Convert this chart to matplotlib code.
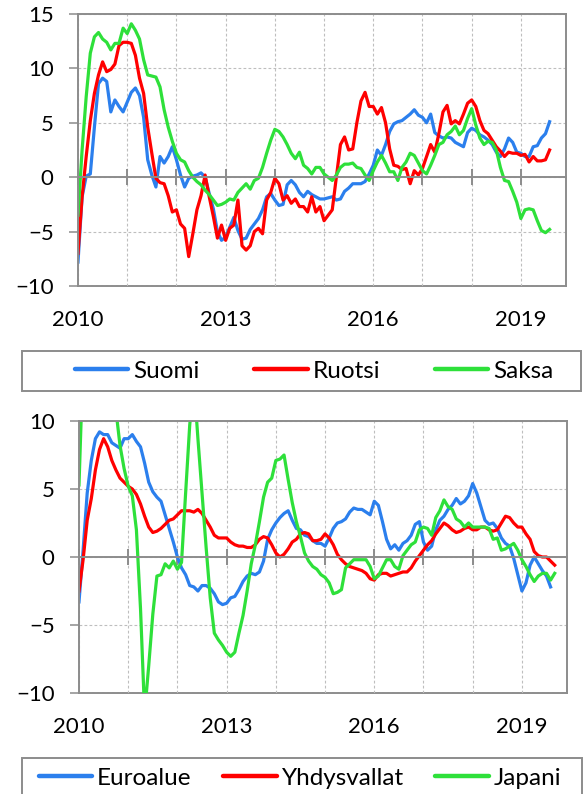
import numpy as np
import matplotlib
matplotlib.use('Agg')
import matplotlib.pyplot as plt
from matplotlib.patches import Rectangle
from matplotlib.lines import Line2D

plt.rcParams['font.family'] = ['Lato', 'DejaVu Sans']

# monthly values from Jan 2010, x axis = month index (Jan 2010 .. Dec 2019)
year_labels = ['2010', '2013', '2016', '2019']

suomi = [-7.8, -1.8, 0.1, 0.3, 4.6, 8.6, 9.1, 8.8, 6.0, 7.1,
         6.5, 6.0, 6.9, 7.8, 8.2, 7.5, 5.5, 1.6, 0.2, -0.9,
         1.9, 1.3, 1.9, 2.8, 1.6, 0.2, -0.9, -0.1, 0.1, 0.2,
         0.4, 0.0, -1.5, -2.9, -5.0, -5.8, -5.5, -4.6, -3.7, -4.9,
         -5.7, -5.6, -4.8, -4.3, -3.8, -3.0, -1.8, -1.5, -2.1, -2.6,
         -2.5, -0.7, -0.3, -0.7, -1.4, -1.8, -1.3, -1.6, -1.8, -2.0,
         -2.0, -1.9, -1.8, -2.1, -2.0, -1.3, -1.0, -0.6, -0.6, -0.6,
         -0.4, 0.3, 1.1, 2.5, 2.0, 3.0, 4.2, 4.9, 5.1, 5.2,
         5.5, 5.8, 6.2, 5.7, 5.5, 5.0, 5.8, 4.1, 3.8, 3.6,
         3.7, 3.6, 3.2, 3.0, 2.8, 4.1, 4.5, 4.3, 3.9, 3.7,
         3.4, 3.0, 2.3, 1.9, 2.6, 3.6, 3.2, 2.3, 2.2, 1.9,
         1.9, 2.8, 2.9, 3.6, 4.0, 5.1]
ruotsi = [-7.0, -1.8, 1.9, 5.2, 7.7, 9.4, 10.6, 9.7, 9.9, 10.4,
          12.1, 12.4, 12.4, 12.3, 11.2, 9.1, 7.7, 4.6, 2.2, -0.1,
          -0.5, -0.6, -1.7, -3.2, -3.0, -4.3, -4.7, -7.3, -5.2, -3.0,
          -1.7, 0.2, -1.8, -3.6, -5.6, -4.4, -5.8, -4.7, -4.4, -2.1,
          -6.3, -6.7, -6.3, -5.0, -4.7, -5.2, -2.1, -1.4, -0.1, -0.6,
          -2.1, -1.7, -2.4, -2.0, -2.7, -2.7, -3.2, -1.8, -3.2, -2.7,
          -4.0, -3.5, -3.0, 0.0, 3.0, 3.7, 2.5, 2.6, 5.0, 7.0,
          7.8, 6.5, 6.5, 5.8, 6.4, 5.0, 2.6, 1.1, 1.0, 0.7,
          0.8, -0.6, 0.6, 0.2, 0.8, 1.9, 3.0, 2.3, 4.0, 6.0,
          6.6, 4.9, 5.2, 4.9, 5.8, 6.8, 7.1, 6.5, 5.2, 4.3,
          4.0, 3.4, 2.8, 2.4, 1.9, 2.3, 2.2, 2.2, 2.0, 2.1,
          1.4, 1.9, 1.5, 1.5, 1.6, 2.5]
saksa = [-3.5, 2.5, 7.4, 11.4, 12.9, 13.3, 12.7, 12.4, 11.7, 12.3,
         12.3, 13.7, 13.2, 14.1, 13.5, 12.7, 10.8, 9.4, 9.3, 9.2,
         8.3, 6.2, 4.6, 3.3, 2.2, 1.6, 1.4, 0.6, 0.0, -0.4,
         -0.7, -1.2, -1.6, -2.1, -2.6, -2.5, -2.3, -2.0, -2.1, -1.4,
         -1.0, -0.6, -1.1, -0.3, -0.1, 0.9, 2.2, 3.4, 4.4, 4.2,
         3.7, 3.0, 2.2, 1.7, 2.3, 1.1, 0.8, 0.3, 0.9, 0.9,
         0.3, 0.0, -0.3, 0.2, 0.9, 1.2, 1.2, 1.3, 0.9, 0.8,
         0.2, -0.3, 0.6, 1.4, 2.0, 1.3, 0.5, 0.5, -0.3, 0.9,
         1.4, 2.2, 2.0, 1.3, 0.6, 0.3, 1.1, 2.0, 3.0, 3.2,
         3.9, 4.2, 4.7, 3.9, 4.3, 5.4, 6.3, 4.8, 3.6, 3.0,
         3.3, 3.2, 2.5, 0.9, -0.3, -0.4, -1.3, -2.3, -3.8, -3.0,
         -2.9, -3.0, -4.0, -4.9, -5.1, -4.8]

euroalue = [-3.3, 0.5, 4.7, 7.1, 8.7, 9.2, 9.0, 9.0, 8.4, 8.2,
            8.0, 8.7, 8.7, 9.0, 8.5, 8.1, 6.9, 5.5, 4.8, 4.4,
            4.1, 3.1, 2.1, 1.1, 0.0, -0.8, -1.3, -2.1, -2.2, -2.5,
            -2.1, -2.1, -2.3, -2.7, -3.3, -3.5, -3.4, -3.0, -2.9, -2.4,
            -1.8, -1.4, -1.2, -1.3, -1.1, -0.3, 1.3, 2.0, 2.5, 2.9,
            3.2, 3.4, 2.7, 2.1, 2.0, 1.6, 1.5, 1.2, 1.0, 1.0,
            0.8, 1.4, 2.1, 2.5, 2.6, 2.8, 3.3, 3.6, 3.5, 3.5,
            3.3, 3.1, 4.1, 3.8, 2.6, 1.3, 0.6, 0.9, 0.5, 1.0,
            1.2, 1.6, 2.4, 2.6, 1.1, 0.5, 0.8, 2.0, 2.7, 3.0,
            3.5, 3.8, 4.3, 3.9, 4.1, 4.5, 5.4, 4.7, 3.7, 2.7,
            2.4, 2.5, 2.1, 1.4, 1.0, 0.8, -0.1, -1.3, -2.5, -1.9,
            -0.6, 0.0, -0.5, -1.0, -1.4, -2.2]
yhdysvallat = [-2.5, -0.2, 2.7, 4.3, 6.4, 7.9, 8.7, 8.1, 7.1, 6.4,
               5.8, 5.5, 5.2, 5.0, 4.6, 3.9, 3.0, 2.2, 1.8, 1.9,
               2.1, 2.4, 2.7, 2.8, 3.1, 3.4, 3.4, 3.4, 3.3, 3.5,
               3.2, 2.7, 2.2, 1.6, 1.4, 1.4, 1.4, 1.1, 0.9, 0.8,
               0.8, 0.7, 0.7, 0.9, 1.3, 1.5, 1.4, 0.9, 0.3, 0.0,
               0.2, 0.6, 1.1, 1.3, 1.7, 1.8, 1.7, 1.2, 1.2, 1.3,
               1.7, 1.4, 0.9, 0.2, -0.2, -0.5, -0.7, -0.8, -0.9, -1.0,
               -1.2, -1.6, -1.7, -1.3, -1.2, -1.2, -1.4, -1.3, -1.2, -1.1,
               -1.1, -0.8, -0.3, 0.1, 0.5, 0.9, 1.2, 1.7, 2.1, 2.5,
               2.3, 2.0, 1.8, 1.9, 2.1, 2.2, 2.0, 2.0, 2.2, 2.2,
               2.0, 1.9, 2.0, 2.5, 3.0, 2.9, 2.5, 2.2, 2.2, 1.7,
               1.3, 0.4, 0.1, 0.0, 0.0, -0.3, -0.6]
japani = [5.3, 14.5, 20.0, 23.0, 23.0, 21.0, 18.5, 16.0, 13.5, 10.8,
          8.2, 6.5, 5.2, 4.5, 2.0, -3.8, -11.5, -8.0, -4.2, -1.4,
          -1.3, -0.5, -0.8, -0.3, -0.9, -0.4, 4.7, 9.7, 13.0, 8.7,
          4.7, 0.7, -3.0, -5.6, -6.1, -6.5, -7.0, -7.3, -7.0, -5.6,
          -4.3, -2.5, -0.5, 0.9, 2.6, 4.4, 5.5, 5.8, 7.1, 7.2,
          7.5, 5.7, 4.0, 2.6, 1.5, 0.3, -0.3, -0.7, -0.9, -1.3,
          -1.5, -1.9, -2.7, -2.6, -2.4, -0.8, -0.5, -0.2, -0.2, -0.2,
          -0.2, -0.7, -1.6, -1.4, -0.8, -0.2, -0.2, -0.7, -0.9, 0.1,
          0.5, 0.9, 1.1, 2.0, 2.2, 2.1, 1.6, 2.9, 3.4, 4.2,
          3.7, 3.5, 2.8, 2.6, 2.2, 2.5, 2.2, 2.2, 2.2, 2.2,
          2.1, 1.3, 1.4, 0.5, 0.6, 0.8, 1.0, 0.5, -0.2, -0.7,
          -1.3, -1.8, -1.4, -1.2, -1.2, -1.7, -1.2]

BLUE = '#2B7FED'
RED = '#FF0000'
GREEN = '#2EE03A'
GRID = '#BEBEBE'
AXIS = '#8C8C8C'
FS = 16
LEG_FS = 17.5
LW = 2.3

W, H = 584, 794
fig = plt.figure(figsize=(W / 100, H / 100), dpi=100)


def make_axes(left, top, right, bottom):
    return fig.add_axes([left / W, 1 - bottom / H, (right - left) / W, (bottom - top) / H])


def style(ax, ymin, ymax):
    ax.set_xlim(0, 119)
    ax.set_ylim(ymin, ymax)
    ax.set_yticks(np.arange(ymin, ymax + 1, 5))
    ax.set_xticks(np.arange(0, 120, 12))
    ax.grid(True, color=GRID, linestyle=(0, (2.5, 2)), linewidth=0.8)
    ax.set_axisbelow(True)
    for s in ['top', 'right', 'left']:
        ax.spines[s].set_color(AXIS)
        ax.spines[s].set_linewidth(1.4)
    # the x axis line crosses at zero
    ax.spines['bottom'].set_position(('data', 0))
    ax.spines['bottom'].set_color(AXIS)
    ax.spines['bottom'].set_linewidth(1.4)
    ax.tick_params(axis='x', direction='inout', length=11, width=1.4, color=AXIS,
                   labelbottom=False)
    ax.tick_params(axis='y', direction='out', length=6.5, width=1.1, color=AXIS,
                   labelsize=FS, pad=11)
    sec = ax.secondary_xaxis('bottom')
    sec.set_xticks(np.arange(0, 120, 36))
    sec.set_xticklabels(year_labels)
    sec.tick_params(length=0, labelsize=FS, pad=17)
    sec.spines['bottom'].set_color(AXIS)
    sec.spines['bottom'].set_linewidth(1.4)


def legend_box(names, colors, left, top, right, bottom, cx, spacing):
    fig.patches.append(Rectangle((left / W, 1 - bottom / H), (right - left) / W,
                                 (bottom - top) / H, transform=fig.transFigure,
                                 fill=False, edgecolor=AXIS, linewidth=1.4))
    handles = [Line2D([], [], color=c, lw=3.2, solid_capstyle='round') for c in colors]
    fig.legend(handles, names, loc='center', ncol=3, frameon=False, fontsize=LEG_FS,
               bbox_to_anchor=(cx / W, 1 - (top + bottom) / 2 / H),
               handlelength=2.2, handletextpad=0.2, columnspacing=spacing)


ax1 = make_axes(78, 14, 566, 286)
x1 = np.arange(len(suomi))
ax1.plot(x1, suomi, color=BLUE, lw=LW)
ax1.plot(x1, ruotsi, color=RED, lw=LW)
ax1.plot(x1, saksa, color=GREEN, lw=LW)
style(ax1, -10, 15)
legend_box(['Suomi', 'Ruotsi', 'Saksa'], [BLUE, RED, GREEN], 22, 351, 581, 391, 314, 2.25)

ax2 = make_axes(79, 421, 567, 693)
ax2.plot(np.arange(len(euroalue)), euroalue, color=BLUE, lw=LW)
ax2.plot(np.arange(len(yhdysvallat)), yhdysvallat, color=RED, lw=LW)
ax2.plot(np.arange(len(japani)), japani, color=GREEN, lw=LW)
style(ax2, -10, 10)
legend_box(['Euroalue', 'Yhdysvallat', 'Japani'], [BLUE, RED, GREEN], 22, 758, 582, 798, 300, 1.3)

fig.savefig('out.png', dpi=100)
